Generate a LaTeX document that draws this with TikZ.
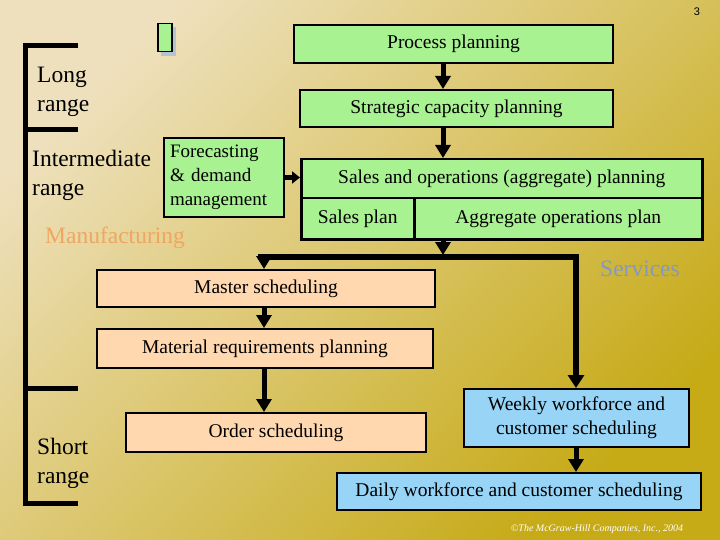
\documentclass[tikz,border=0pt]{standalone}
\usepackage{fontspec}
\setmainfont{Liberation Serif}
\newfontfamily\pagesans{Liberation Sans}
\usetikzlibrary{arrows.meta}
\definecolor{bgA}{RGB}{238,224,188}
\definecolor{bgB}{RGB}{218,194,126}
\definecolor{bgC}{RGB}{198,170,22}
\definecolor{boxgreen}{RGB}{168,242,146}
\definecolor{boxpeach}{RGB}{255,216,176}
\definecolor{boxblue}{RGB}{152,212,245}
\definecolor{mfg}{RGB}{240,166,96}
\definecolor{svc}{RGB}{132,152,196}
\definecolor{iconshadow}{RGB}{180,195,212}
\begin{document}
\begin{tikzpicture}[x=1pt,y=-1pt,
  box/.style={draw=black,line width=2pt,inner sep=0pt,anchor=north west,font=\fontsize{19.5}{24}\selectfont},
  gbox/.style={box,fill=boxgreen},
  pbox/.style={box,fill=boxpeach},
  bbox/.style={box,fill=boxblue},
  rangelbl/.style={anchor=west,align=left,inner sep=0pt,font=\fontsize{23.5}{29}\selectfont},
  bracket/.style={line width=5pt},
  arr/.style={line width=5pt,-{Triangle[length=13pt,width=15pt]}},
  shortarr/.style={line width=5pt,-{Triangle[length=8pt,width=12pt]}},
  bar/.style={line width=6pt,-{Triangle[length=13pt,width=16pt]}},
]
\useasboundingbox (0,0) rectangle (720,540);
\shade[top color=bgA, middle color=bgB, bottom color=bgC, shading angle=45] (0,0) rectangle (720,540);

% page number and icon
\node[font=\pagesans\fontsize{11}{13}\selectfont,inner sep=0pt] (pg) at (697,12) {3};
\fill[iconshadow] (161,27) rectangle (176,56);
\node[draw=black,fill=boxgreen,line width=1.5pt,minimum width=14pt,minimum height=28pt,inner sep=0pt,anchor=north west] (ic) at (157,23) {};

% range bracket
\draw[bracket] (78,46) -- (25,46) -- (25,503) -- (78,503);
\draw[bracket] (25,130) -- (78,130);
\draw[bracket] (25,388) -- (78,388);
\node[rangelbl] (lr) at (37,92) {Long\\range};
\node[rangelbl] (ir) at (32,175) {Intermediate\\range};
\node[rangelbl] (sr) at (37,463) {Short\\range};
\node[anchor=west,inner sep=0pt,text=mfg,font=\fontsize{23.5}{28}\selectfont] (mf) at (45,238) {Manufacturing};
\node[anchor=west,inner sep=0pt,text=svc,font=\fontsize{23.5}{28}\selectfont] (sv) at (600,269) {Services};

% boxes
\node[gbox,minimum width=319pt,minimum height=38pt] (pp) at (293,24) {Process planning};
\node[gbox,minimum width=313pt,minimum height=37pt] (scp) at (299,89) {Strategic capacity planning};
\node[gbox,line width=2.5pt,minimum width=401pt,minimum height=39pt] (sop) at (300,158) {Sales and operations (aggregate) planning};
\node[gbox,line width=2.5pt,minimum width=113pt,minimum height=41pt] (sp) at (300,197) {Sales plan};
\node[gbox,line width=2.5pt,minimum width=288pt,minimum height=41pt] (aop) at (413,197) {Aggregate operations plan};
\node[gbox,minimum width=120pt,minimum height=79pt,align=left,text width=108pt,font=\fontsize{19}{24}\selectfont] (fc) at (163,137) {Forecasting\\\& demand\\management};
\node[pbox,minimum width=338pt,minimum height=37pt] (ms) at (96,269) {Master scheduling};
\node[pbox,minimum width=336pt,minimum height=39pt] (mrp) at (96,328) {Material requirements planning};
\node[pbox,minimum width=300pt,minimum height=39pt] (os) at (125,412) {Order scheduling};
\node[bbox,minimum width=225pt,minimum height=58pt,align=center] (wk) at (463,388) {Weekly workforce and\\customer scheduling};
\node[bbox,minimum width=364pt,minimum height=37pt] (dy) at (336,472) {Daily workforce and customer scheduling};

% connector helpers
\coordinate (xa) at (443,0);
\coordinate (xl) at (264,0);
\coordinate (xr) at (576,0);
\coordinate (jl) at (258,257);
\coordinate (jr) at (576,257);
\coordinate (ja) at (443,255);

% connectors
\draw[arr] (pp.south -| xa) -- (scp.north -| xa);
\draw[arr] (scp.south -| xa) -- (sop.north -| xa);
\draw[shortarr] (fc.east) -- (sop.west |- fc.east);
\draw[arr] (aop.south -| xa) -- (ja);
\draw[bar] (jl) -- (jr) -- (wk.north -| jr);
\draw[arr] (jl -| xl) -- (ms.north -| xl);
\draw[arr] (ms.south -| xl) -- (mrp.north -| xl);
\draw[arr] (mrp.south -| xl) -- (os.north -| xl);
\draw[arr] (wk.south -| xr) -- (dy.north -| xr);

% footer
\node[text=white,inner sep=0pt,font=\itshape\fontsize{10}{12}\selectfont] (cr) at (597,529) {\textcopyright The McGraw-Hill Companies, Inc., 2004};
\end{tikzpicture}
\end{document}
